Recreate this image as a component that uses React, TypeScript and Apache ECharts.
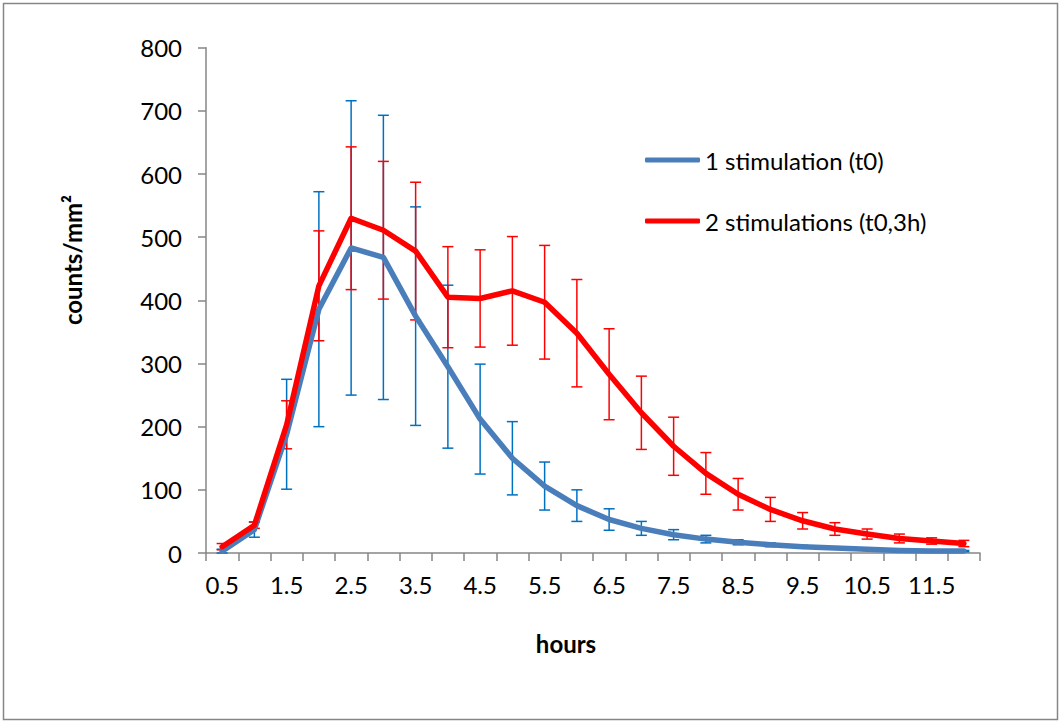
import React, { useEffect, useRef } from "react";
import * as echarts from "echarts";

const hours = ["0.5","1","1.5","2","2.5","3","3.5","4","4.5","5","5.5","6","6.5","7","7.5","8","8.5","9","9.5","10","10.5","11","11.5","12"];
const oneStim = [3,37,188,386,483,468,375,295,212,150,106,75,53,39,29,22,17,13,10,8,6,4,3,3];
const oneStimErr = [3,12,87,186,233,225,173,129,87,58,38,25,17,11,8,6,4,3,2,2,2,1,1,1];
const twoStim = [10,44,203,423,530,511,478,405,403,415,397,348,283,222,169,126,93,69,51,38,30,23,19,15];
const twoStimErr = [5,5,38,87,113,109,109,80,77,86,90,85,72,58,46,33,25,19,13,10,8,7,5,5];
const yTicks = [0,100,200,300,400,500,600,700,800];

const FONT = "Lato, 'Open Sans', sans-serif";
const AXIS_GRAY = "#868686";

function errData(vals: number[], errs: number[]) {
  return vals.map((v, i) => [i, Math.max(0, v - errs[i]), v + errs[i]]);
}

function errRender(color: string) {
  return (params: any, api: any) => {
    const x = api.value(0);
    const lo = api.coord([x, api.value(1)]);
    const hi = api.coord([x, api.value(2)]);
    const cap = 5.5;
    const style = { stroke: color, lineWidth: 1.5 };
    return {
      type: "group",
      children: [
        { type: "line", shape: { x1: lo[0], y1: lo[1], x2: hi[0], y2: hi[1] }, style },
        { type: "line", shape: { x1: lo[0] - cap, y1: lo[1], x2: lo[0] + cap, y2: lo[1] }, style },
        { type: "line", shape: { x1: hi[0] - cap, y1: hi[1], x2: hi[0] + cap, y2: hi[1] }, style },
      ],
    };
  };
}

export default function App() {
  const ref = useRef<HTMLDivElement>(null);
  useEffect(() => {
    if (!ref.current) return;
    const chart = echarts.init(ref.current, null, { renderer: "svg" });
    chart.setOption({
      animation: false,
      backgroundColor: "#ffffff",
      textStyle: { fontFamily: FONT },
      grid: { left: 206, top: 47.7, right: 80, bottom: 169, containLabel: false },
      legend: {
        orient: "vertical",
        left: 645,
        top: 148,
        padding: 0,
        itemWidth: 55,
        itemHeight: 5,
        itemGap: 37,
        icon: "roundRect",
        textStyle: { fontFamily: FONT, fontSize: 24, color: "#000", lineHeight: 24 },
        data: ["1 stimulation (t0)", "2 stimulations (t0,3h)"],
      },
      xAxis: {
        type: "category",
        data: hours,
        boundaryGap: true,
        axisLine: { lineStyle: { color: AXIS_GRAY, width: 1.5 } },
        axisTick: { show: true, interval: 0, length: 8, lineStyle: { color: AXIS_GRAY, width: 1.5 } },
        axisLabel: { interval: 1, margin: 19, fontSize: 24, color: "#000", fontFamily: FONT },
        splitLine: { show: false },
      },
      yAxis: {
        type: "value",
        min: yTicks[0],
        max: yTicks[yTicks.length - 1],
        interval: 100,
        axisLine: { show: true, lineStyle: { color: AXIS_GRAY, width: 1.5 } },
        axisTick: { show: true, length: 8, lineStyle: { color: AXIS_GRAY, width: 1.5 } },
        axisLabel: { margin: 24, fontSize: 24, color: "#000", fontFamily: FONT },
        splitLine: { show: false },
      },
      graphic: [
        {
          type: "rect",
          shape: { x: 3.5, y: 3.5, width: 1054, height: 716 },
          style: { fill: "none", stroke: AXIS_GRAY, lineWidth: 1.5 },
          silent: true,
        },
        {
          type: "text",
          x: 72,
          y: 260,
          rotation: Math.PI / 2,
          style: {
            text: "counts/mm²",
            font: `bold 24px ${FONT}`,
            fill: "#000",
            textAlign: "center",
            textVerticalAlign: "middle",
          },
        },
        {
          type: "text",
          x: 566,
          y: 643,
          style: {
            text: "hours",
            font: `bold 24px ${FONT}`,
            fill: "#000",
            textAlign: "center",
            textVerticalAlign: "middle",
          },
        },
      ],
      series: [
        {
          type: "custom",
          name: "err1",
          renderItem: errRender("#0070C0"),
          data: errData(oneStim, oneStimErr),
          z: 1,
          silent: true,
        },
        {
          type: "custom",
          name: "err2",
          renderItem: errRender("#FF0000"),
          data: errData(twoStim, twoStimErr),
          z: 1,
          silent: true,
        },
        {
          type: "line",
          name: "1 stimulation (t0)",
          data: oneStim,
          color: "#4A7EBB",
          showSymbol: false,
          symbol: "none",
          lineStyle: { width: 5.5, color: "#4A7EBB", cap: "round", join: "round" },
          z: 2,
        },
        {
          type: "line",
          name: "2 stimulations (t0,3h)",
          data: twoStim,
          color: "#FF0000",
          showSymbol: false,
          symbol: "none",
          lineStyle: { width: 5.5, color: "#FF0000", cap: "round", join: "round" },
          z: 3,
        },
      ],
    });
    return () => chart.dispose();
  }, []);
  return (
    <div
      ref={ref}
      style={{ position: "absolute", left: 0, top: 0, width: 1060, height: 722 }}
    />
  );
}
